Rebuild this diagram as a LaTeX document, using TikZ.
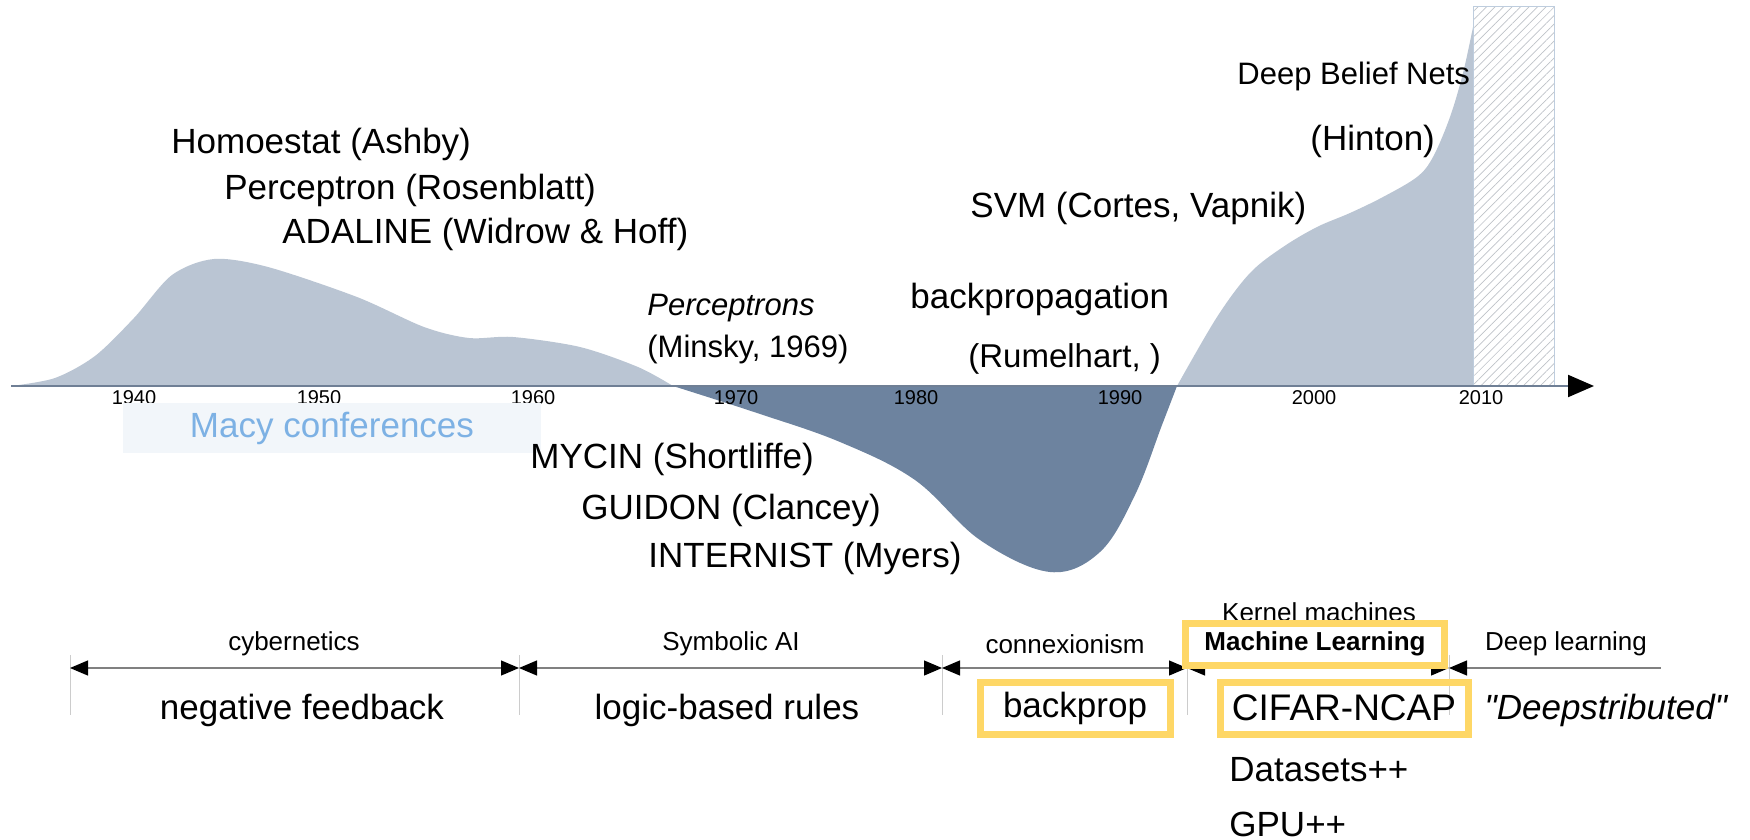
\documentclass[tikz,border=0pt]{standalone}
\usepackage{fontspec}
\setmainfont{Liberation Sans}
\usetikzlibrary{arrows.meta,patterns.meta}
\definecolor{hillblue}{RGB}{186,197,211}
\definecolor{valleyblue}{RGB}{109,131,159}
\definecolor{axisgray}{RGB}{111,127,149}
\definecolor{macybg}{RGB}{242,246,250}
\definecolor{macyfg}{RGB}{125,177,228}
\definecolor{gold}{RGB}{254,215,102}
\definecolor{hatchgray}{RGB}{190,194,200}
\definecolor{hatchedge}{RGB}{190,205,222}
\begin{document}
\begin{tikzpicture}[x=0.5pt, y=-0.5pt, every node/.style={inner sep=0pt},
    bigtext/.style={font=\fontsize{17.5}{21}\selectfont},
    midtext/.style={font=\fontsize{15.5}{19}\selectfont},
    smalltext/.style={font=\fontsize{13}{16}\selectfont},
    yeartext/.style={font=\fontsize{10}{12}\selectfont},
    goldbox/.style={draw=gold,line width=3.5pt},
    era/.style={{Triangle[length=9pt,width=7.5pt,color=black]}-{Triangle[length=9pt,width=7.5pt,color=black]},draw=gray,line width=0.6pt},
    erasep/.style={draw=gray!40,line width=0.5pt}]
  \useasboundingbox (0,0) rectangle (1750,840);

  % funding curves
  \fill [hillblue] plot [smooth, tension=0.5] coordinates {(11,386) (55,378) (95,356) (134,318) (172,275) (214,259) (268,267) (357,297) (424,327) (469,338) (513,337) (580,347) (638,367) (673,386)} -- cycle;
  \fill [valleyblue] plot [smooth, tension=0.6] coordinates {(673,386) (757,413) (840,442) (915,480) (980,540) (1050,572) (1100,552) (1135,495) (1162,425) (1177,386)} -- cycle;
  \fill [hillblue] plot [smooth, tension=0.55] coordinates {(1177,386) (1217,317) (1250,273) (1283,247) (1317,227) (1350,213) (1383,197) (1417,177) (1433,157) (1450,117) (1463,73) (1473,27)} -- (1473,386) -- cycle;
  \path [pattern={Lines[angle=45,distance=3pt,line width=0.35pt]}, pattern color=hatchgray] (1473,7) rectangle (1554,386);
  \draw [hatchedge, line width=0.5pt] (1473,7) rectangle (1554,386);

  % time axis
  \coordinate (ax0) at (11,386);
  \coordinate (ax1) at (1594,386);
  \draw [axisgray, line width=1pt, -{Triangle[length=13pt,width=11pt,color=black]}] (ax0) -- (ax1);
  \foreach \yr/\xx in {1940/134,1950/319,1960/533,1970/736,1980/916,1990/1120,2000/1314,2010/1481}
    \node [yeartext] (y\yr) at (\xx,398) {\yr};

  \node [fill=macybg, text=macyfg, bigtext, minimum width=209pt, minimum height=25pt] (macy) at (332,428) {Macy conferences};

  % milestones
  \node [bigtext, anchor=west] (homeo) at (171,144) {Homoestat (Ashby)};
  \node [bigtext, anchor=west] (rosen) at (224,190) {Perceptron (Rosenblatt)};
  \node [bigtext, anchor=west] (adaline) at (282,234) {ADALINE (Widrow \& Hoff)};
  \node [midtext, anchor=west] (minsky) at (647,308) {\itshape Perceptrons};
  \node [midtext, anchor=west] (minskyb) at (647,349) {(Minsky, 1969)};
  \node [bigtext, anchor=west] (mycin) at (530,459) {MYCIN (Shortliffe)};
  \node [bigtext, anchor=west] (guidon) at (581,510) {GUIDON (Clancey)};
  \node [bigtext, anchor=west] (internist) at (648,558) {INTERNIST (Myers)};
  \node [bigtext, anchor=west] (bprop) at (910,299) {backpropagation};
  \node [font=\fontsize{16.5}{20}\selectfont, anchor=west] (rumel) at (968,359) {(Rumelhart, )};
  \node [bigtext, anchor=west] (svm) at (970,208) {SVM (Cortes, Vapnik)};
  \node [midtext, anchor=west] (dbn) at (1237,76) {Deep Belief Nets};
  \node [bigtext, anchor=west] (hinton) at (1310,141) {(Hinton)};

  % eras
  \coordinate (t1) at (70,668);
  \coordinate (t2) at (519,668);
  \coordinate (t3) at (942,668);
  \coordinate (t4) at (1187,668);
  \coordinate (t5) at (1449,668);
  \coordinate (tend) at (1661,668);
  \foreach \t in {t1,t2,t3,t4,t5}
    \draw [erasep] (\t) ++(0,-13) -- ++(0,60);
  \draw [era] (t1) -- (t2);
  \draw [era] (t2) -- (t3);
  \draw [era] (t3) -- (t4);
  \draw [era] (t4) -- (t5);
  \draw [{Triangle[length=9pt,width=7.5pt,color=black]}-, draw=gray, line width=0.6pt] (t5) -- (tend);

  \node [smalltext] (cyber) at (294,644) {cybernetics};
  \node [smalltext] (symb) at (731,644) {Symbolic AI};
  \node [smalltext] (connex) at (1065,644) {connexionism};
  \node [smalltext] (kernel) at (1319,612) {Kernel machines};
  \node [goldbox, fill=white, font=\fontsize{13}{16}\selectfont\bfseries, minimum width=129.5pt, minimum height=21pt] (ml) at (1315,644) {Machine Learning};
  \node [smalltext] (deep) at (1566,644) {Deep learning};

  \node [bigtext] (negfb) at (302,710) {negative feedback};
  \node [bigtext] (logic) at (727,710) {logic-based rules};
  \node [goldbox, bigtext, minimum width=95pt, minimum height=26pt] (bp) at (1075,708) {backprop};
  \node [goldbox, font=\fontsize{18.5}{22}\selectfont, minimum width=124pt, minimum height=26pt] (cifar) at (1344,708) {CIFAR-NCAP};
  \node [bigtext, anchor=west] (deepstr) at (1484,710) {\itshape\textquotedbl Deepstributed\textquotedbl};
  \node [bigtext, anchor=west] (data) at (1229,770) {Datasets++};
  \node [bigtext, anchor=west] (gpu) at (1229,824) {GPU++};
\end{tikzpicture}
\end{document}
